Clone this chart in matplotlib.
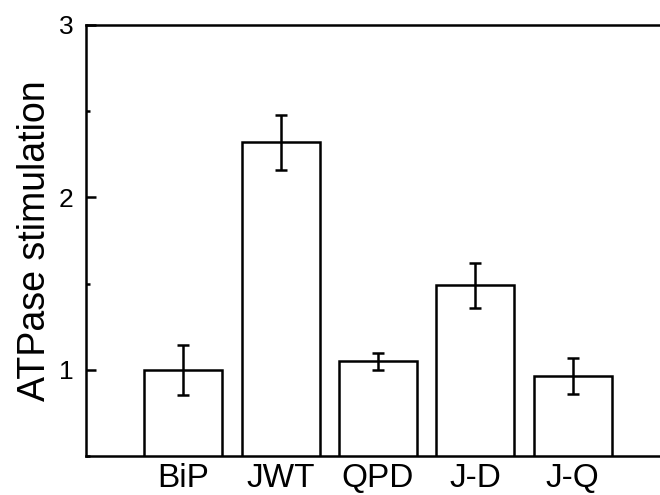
import numpy as np
import matplotlib
matplotlib.use('Agg')
from matplotlib import pyplot as plt
from matplotlib.ticker import MultipleLocator

# Data
categories = ['BiP', 'JWT', 'QPD', 'J-D', 'J-Q']
stimulation = [1.00, 2.32, 1.05, 1.49, 0.965]
errors = [0.145, 0.16, 0.05, 0.13, 0.105]

plt.rcParams['font.family'] = ['Liberation Sans', 'DejaVu Sans']

fig = plt.figure(figsize=(6.6, 4.95), dpi=100)
ax = fig.add_axes([0.130, 0.0788, 0.870, 0.8707])

lw = 1.8
x = np.arange(len(categories))
ax.bar(x, stimulation, width=0.8, bottom=0, color='white', edgecolor='black', linewidth=lw)
ax.errorbar(x, stimulation, yerr=errors, fmt='none', ecolor='black',
            elinewidth=lw, capsize=4.3, capthick=lw)

ax.set_xlim(-1.0, 4.895)
ax.set_ylim(0.5, 3.0)
ax.set_xticks(x)
ax.set_xticklabels(categories, fontsize=24)
ax.tick_params(axis='x', length=0, pad=5)

ax.yaxis.set_minor_locator(MultipleLocator(0.5))
ax.set_yticks([1, 2, 3])
ax.tick_params(axis='y', which='major', direction='in', length=7, width=lw, labelsize=19, pad=9)
ax.tick_params(axis='y', which='minor', direction='in', length=3, width=lw)

ax.set_ylabel('ATPase stimulation', fontsize=27, labelpad=4)

for side in ['left', 'top', 'bottom']:
    ax.spines[side].set_linewidth(lw)
ax.spines['right'].set_visible(False)

fig.savefig('out.png', dpi=100)
